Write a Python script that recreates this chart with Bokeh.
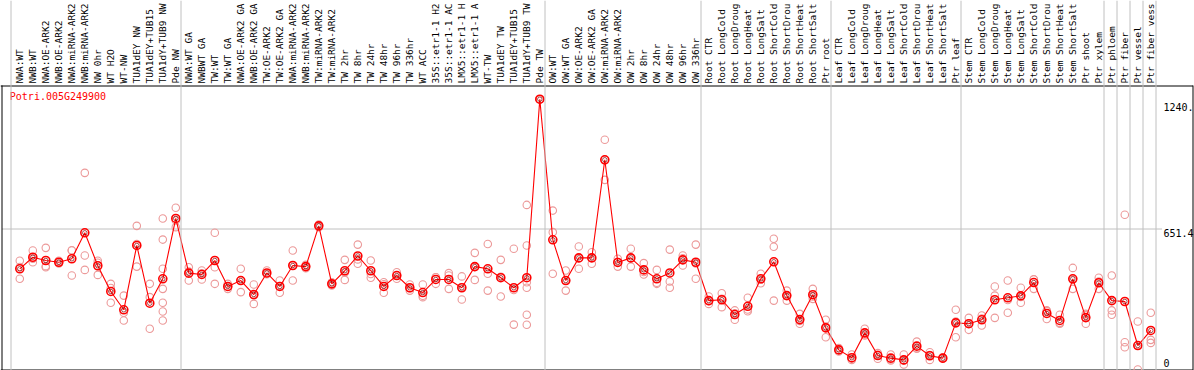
import math
from bokeh.plotting import figure
from bokeh.models import Range1d, Span
from bokeh.core.properties import value
from bokeh.embed import file_html
from bokeh.resources import INLINE

gene_id = "Potri.005G249900"

labels = [
    "NWA:WT", "NWB:WT", "NWA:OE-ARK2", "NWB:OE-ARK2", "NWA:miRNA-ARK2", "NWB:miRNA-ARK2",
    "NW 0hr", "WT H2O", "WT-NW", "TUA1dEY NW", "TUA1dEY+TUB15", "TUA1dY+TUB9 NW", "Pde NW",
    "NWA:WT GA", "NWBWT GA", "TW:WT", "TW:WT GA", "NWA:OE-ARK2 GA", "NWB:OE-ARK2 GA",
    "TW:OE-ARK2", "TW:OE-ARK2 GA", "NWA:miRNA-ARK2", "NWB:miRNA-ARK2", "TW:miRNA-ARK2",
    "TW:miRNA-ARK2", "TW 2hr", "TW 8hr", "TW 24hr", "TW 48hr", "TW 96hr", "TW 336hr",
    "WT ACC", "35S::etr1-1 H2", "35S::etr1-1 AC", "LMX5::etr1-1 H", "LMX5::etr1-1 A",
    "WT-TW", "TUA1dEY TW", "TUA1dEY+TUB15", "TUA1dY+TUB9 TW", "Pde TW",
    "OW:WT", "OW:WT GA", "OW:OE-ARK2", "OW:OE-ARK2 GA", "OW:miRNA-ARK2", "OW:miRNA-ARK2",
    "OW 2hr", "OW 8hr", "OW 24hr", "OW 48hr", "OW 96hr", "OW 336hr",
    "Root CTR", "Root LongCold", "Root LongDroug", "Root LongHeat", "Root LongSalt",
    "Root ShortCold", "Root ShortDrou", "Root ShortHeat", "Root ShortSalt", "Ptr root",
    "Leaf CTR", "Leaf LongCold", "Leaf LongDroug", "Leaf LongHeat", "Leaf LongSalt",
    "Leaf ShortCold", "Leaf ShortDrou", "Leaf ShortHeat", "Leaf ShortSalt", "Ptr leaf",
    "Stem CTR", "Stem LongCold", "Stem LongDroug", "Stem LongHeat", "Stem LongSalt",
    "Stem ShortCold", "Stem ShortDrou", "Stem ShortHeat", "Stem ShortSalt", "Ptr shoot",
    "Ptr xylem", "Ptr phloem", "Ptr fiber", "Ptr vessel", "Ptr fiber vess",
]

mean_values = [
    462, 515, 500, 492, 508, 627, 476, 358, 274, 569, 304, 416, 693,
    442, 436, 500, 381, 408, 344, 443, 381, 477, 472, 659, 393, 453, 521, 453,
    381, 431, 375, 353, 413, 413, 375, 472, 462, 421, 375, 421, 1240,
    595, 408, 512, 512, 962, 491, 512, 457, 416, 443, 503, 492,
    316, 320, 252, 290, 416, 494, 339, 229, 343, 191,
    90, 54, 168, 64, 52, 44, 107, 63, 52, 214,
    210, 228, 320, 329, 338, 399, 257, 225, 416, 238, 398,
    316, 312, 110, 179,
]

replicates = [
    [499, 470, 416], [546, 508, 492], [558, 474, 469], [499, 492, 486], [546, 547, 431],
    [902, 523, 457], [499, 490, 434], [393, 374, 306], [339, 260, 225], [659, 576, 472],
    [393, 332, 187], [693, 596, 462, 370, 306, 266, 225], [742, 684, 653],
    [469, 449, 408], [454, 441, 413], [627, 469, 393], [393, 380, 370], [462, 408, 355],
    [390, 341, 301], [454, 439, 437], [408, 383, 352], [546, 477, 408], [480, 472, 465],
    [665, 659, 653], [400, 393, 386], [503, 445, 411], [573, 505, 485], [500, 438, 421],
    [400, 391, 352], [446, 431, 416], [390, 373, 362], [390, 338, 332], [423, 423, 393],
    [442, 431, 370], [427, 377, 321], [535, 471, 411], [576, 439, 362], [503, 425, 335],
    [554, 365, 206], [755, 569, 400, 375, 251, 205], [1240, 1240, 1240],
    [729, 630, 439], [454, 408, 362], [564, 510, 462], [538, 513, 485], [1054, 962, 870],
    [508, 493, 472], [554, 510, 472], [488, 447, 436], [457, 398, 393], [550, 404, 375],
    [523, 510, 477], [573, 487, 416],
    [335, 313, 301], [350, 324, 286], [271, 258, 228], [329, 275, 267], [439, 413, 396],
    [600, 563, 316], [362, 339, 316], [255, 223, 210], [370, 335, 324], [228, 197, 148],
    [98, 90, 83], [69, 49, 44], [187, 161, 156], [75, 68, 49], [69, 46, 41],
    [69, 40, 23], [128, 98, 95], [79, 66, 44], [55, 52, 49], [274, 220, 148],
    [237, 211, 182], [248, 234, 202], [381, 339, 237], [408, 319, 260], [375, 333, 306],
    [414, 413, 370], [271, 268, 232], [251, 214, 210], [466, 412, 370], [255, 249, 210],
    [421, 403, 370], [431, 271, 251], [710, 125, 102], [220, 110, 0], [260, 136, 122],
]

group_ends = [12, 40, 52, 62, 72, 83, 84, 85, 86, 87]
tick_values = [0, 651.4, 1240]
tick_labels = ["0", "651.4", "1240."]
tick_offsets = [-7, 5, 8]
grid_values = [651.4]
y_max = 1302.8

# ---- layout (figure pixel coordinates) ----
W, H = 1194, 370
PLOT_TOP = 85
ZERO_Y = 369.0
S = 13.0
C0 = 19.3
K = (ZERO_Y - PLOT_TOP) / y_max

def dx(fx):
    return (fx - C0) / S

def dy(fy):
    return (ZERO_Y - fy) / K

MONO = value("DejaVu Sans Mono")
GREY = "#c0c0c0"

p = figure(width=W, height=H, x_range=Range1d(dx(0), dx(W)), y_range=Range1d(dy(H), dy(0)),
           output_backend="svg", toolbar_location=None,
           x_axis_location=None, y_axis_location=None, min_border=0)
p.grid.visible = False
p.outline_line_color = None
p.background_fill_color = "white"
p.border_fill_color = "white"

# vertical separators
sep_px = [math.floor(C0 + S * (e + 0.4)) + 0.5 for e in group_ends]
for fx in [10.5] + sep_px:
    p.add_layout(Span(location=dx(fx), dimension="height", line_color=GREY, line_width=1))

last_sep = sep_px[-1]
RIGHT = 1192.5

# horizontal grid
for gv in grid_values:
    fy = math.floor(ZERO_Y - gv * K) + 1.5
    p.segment(x0=dx(1.5), y0=dy(fy), x1=dx(last_sep + 6), y1=dy(fy), line_color=GREY, line_width=1)

# frame lines
p.segment(x0=[dx(0), dx(1.5), dx(0), dx(RIGHT)],
          y0=[dy(PLOT_TOP + 0.5), dy(PLOT_TOP), dy(369.5), dy(PLOT_TOP)],
          x1=[dx(RIGHT), dx(1.5), dx(RIGHT), dx(RIGHT)],
          y1=[dy(PLOT_TOP + 0.5), dy(H), dy(369.5), dy(H)],
          line_color="black", line_width=1)

# category labels (rotated)
idx = list(range(len(labels)))
p.text(x=idx, y=[dy(PLOT_TOP - 2)] * len(labels), text=labels, angle=math.pi / 2,
       text_align="left", text_baseline="middle", text_font=MONO,
       text_font_size="9.5px", text_color="black")

# replicates
rx, ry = [], []
for i, reps in enumerate(replicates):
    for r in reps:
        rx.append(i)
        ry.append(r)
p.scatter(rx, ry, marker="circle", size=7.5, line_color="#ec9a9a", fill_color=None, line_width=1.1)

# mean line + markers
p.line(idx, mean_values, line_color="#ff0000", line_width=1.1)
p.scatter(idx, mean_values, marker="circle", size=8, line_color="#ff0000", fill_color=None, line_width=1.6)
p.scatter(idx, mean_values, marker="circle", size=4.5, line_color="#800000", fill_color=None, line_width=0.7)

# gene id
p.text(x=[dx(9.3)], y=[dy(96)], text=[gene_id], text_align="left", text_baseline="middle",
       text_font=MONO, text_font_size="10px", text_color="#ff0000")

# right tick labels
p.text(x=[dx(1163)] * len(tick_values), y=tick_values, text=tick_labels,
       y_offset=tick_offsets, text_align="left", text_baseline="middle",
       text_font=MONO, text_font_size="10px", text_color="black")

open("out.html", "w").write(file_html(p, INLINE))
